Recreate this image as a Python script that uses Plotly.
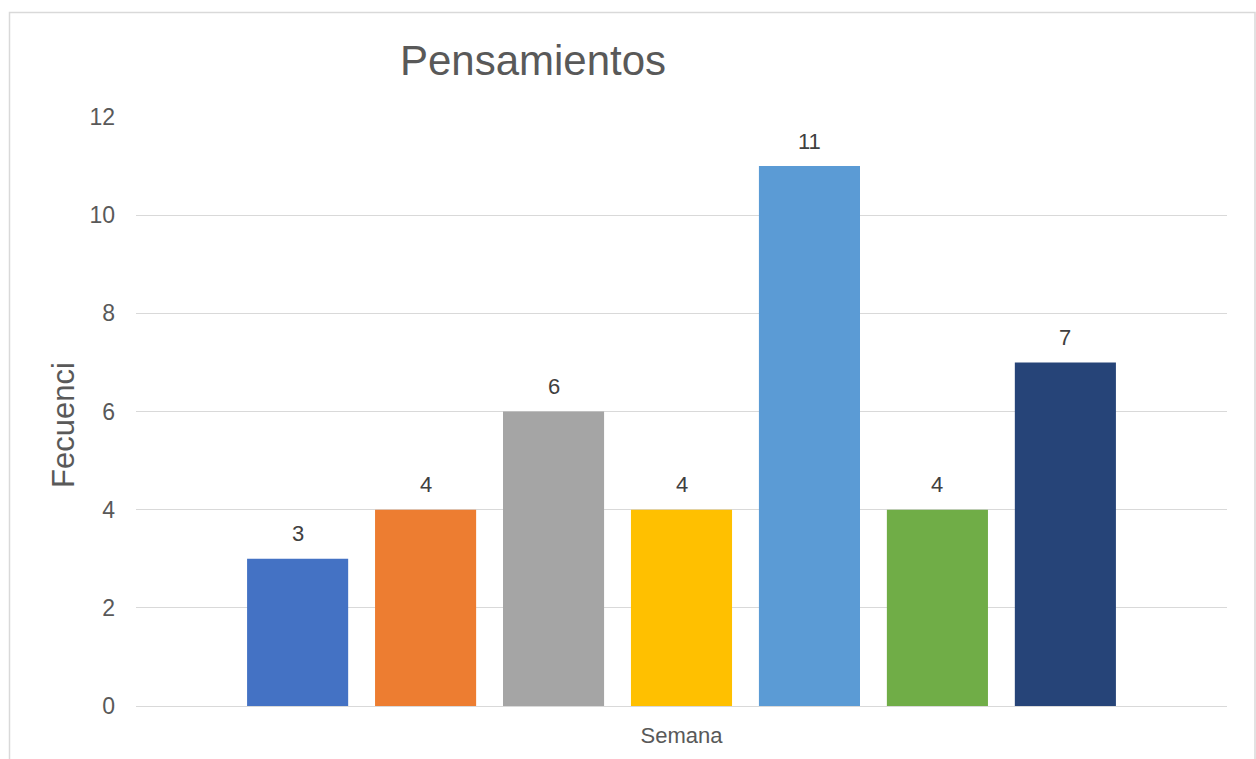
import plotly.graph_objects as go

categories = ["Semana"]
series_names = ["Semana 1", "Semana 2", "Semana 3", "Semana 4", "Semana 5", "Semana 6", "Semana 7"]
values = [3, 4, 6, 4, 11, 4, 7]
colors = ["#4472C4", "#ED7D31", "#A5A5A5", "#FFC000", "#5B9BD5", "#70AD47", "#264478"]
y_ticks = [0, 2, 4, 6, 8, 10, 12]

FONT = "Liberation Sans, Arial, sans-serif"

W, H = 1256, 759
L, R, T, B = 136, 29, 117, 53
PW = W - L - R
PH = H - T - B
BARGAP = 0.179
GROUPGAP = 0.21

fig = go.Figure()
for name, v, c in zip(series_names, values, colors):
    fig.add_trace(go.Bar(
        x=categories, y=[v], name=name,
        marker=dict(color=c, line=dict(width=0)),
        hovertemplate=name + ": %{y}<extra></extra>",
    ))

# data labels placed above each grouped bar
n = len(values)
pitch = (1 - BARGAP) * PW / n
annotations = []
for i, v in enumerate(values):
    annotations.append(dict(
        x=categories[0], y=v, xref="x", yref="y",
        text=str(v), showarrow=False,
        xshift=(i - (n - 1) / 2) * pitch, yshift=25,
        yanchor="middle", xanchor="center",
        font=dict(family=FONT, size=22, color="#404040"),
    ))

# y-axis title (Excel places it slightly below the plot centre)
annotations.append(dict(
    text="Fecuenci", textangle=-90, showarrow=False,
    xref="paper", yref="paper",
    x=(63 - L) / PW, y=(H - B - 425) / PH,
    xanchor="center", yanchor="middle",
    font=dict(family=FONT, size=31, color="#595959"),
))

fig.update_layout(
    width=W, height=H,
    margin=dict(l=L, r=R, t=T, b=B, autoexpand=False),
    paper_bgcolor="white", plot_bgcolor="white",
    showlegend=False,
    barmode="group",
    bargap=BARGAP,
    bargroupgap=GROUPGAP,
    font=dict(family=FONT, color="#595959"),
    title=dict(
        text="Pensamientos",
        font=dict(family=FONT, size=42, color="#595959"),
        x=(533 - L) / PW, xref="paper", xanchor="center",
        y=1 - 60 / H, yref="container", yanchor="middle",
    ),
    xaxis=dict(
        automargin=False,
        showgrid=False, showline=True, linecolor="#D9D9D9", linewidth=1,
        ticks="", tickfont=dict(family=FONT, size=22, color="#595959"),
        ticklabelstandoff=10,
    ),
    yaxis=dict(
        automargin=False,
        range=[0, 12], tickvals=y_ticks,
        showgrid=True, gridcolor="#D9D9D9", gridwidth=1,
        zeroline=False, showline=False, ticks="",
        tickfont=dict(family=FONT, size=23, color="#595959"),
        ticklabelstandoff=20,
    ),
    annotations=annotations,
    shapes=[dict(
        type="rect", xref="paper", yref="paper",
        x0=(9.5 - L) / PW, x1=(1255 - L) / PW,
        y0=(H - B - 770) / PH, y1=(H - B - 12.5) / PH,
        line=dict(color="#D9D9D9", width=1.5), fillcolor="rgba(0,0,0,0)", layer="below",
    )],
)

fig.write_html("out.html")
